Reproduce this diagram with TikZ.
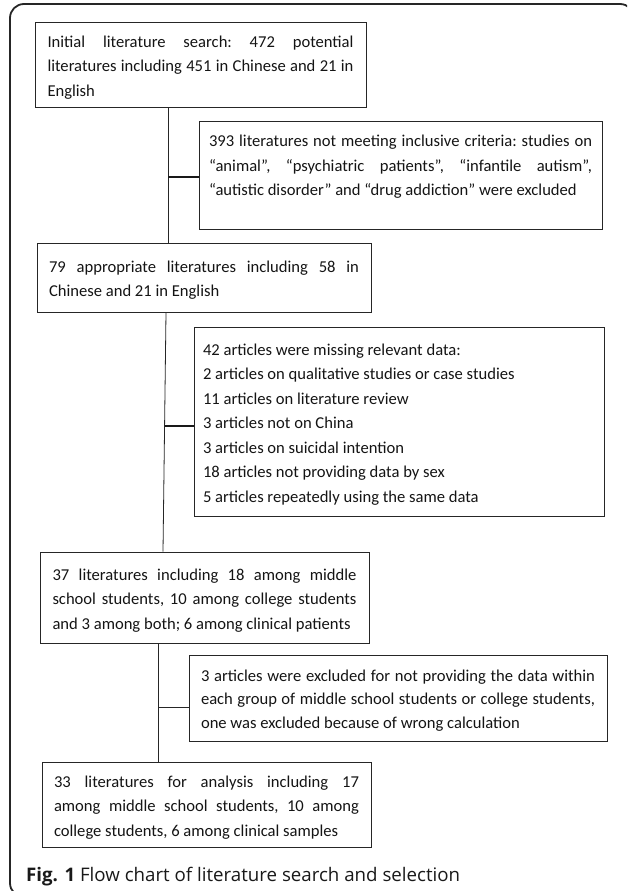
\documentclass[tikz,border=0pt]{standalone}
\usepackage{fontspec}
\setmainfont{Carlito}
\newfontfamily\capfont{Open Sans}
\newcommand{\J}[1]{\makebox[\hsize][s]{#1}}
\begin{document}
\begin{tikzpicture}[x=1pt,y=-1pt,
  box/.style={draw=black!85, line width=0.9pt, inner sep=0pt, align=left,
    font=\fontsize{16.6}{24.5}\selectfont, text=black!92,
    execute at begin node={\spaceskip=0pt\xspaceskip=0pt\frenchspacing\hyphenpenalty=10000\relax\strut}},
  link/.style={line width=0.8pt, draw=black!85},
  tick/.style={line width=1.6pt, draw=black!90}]
\useasboundingbox (0,0) rectangle (627,891);
\begin{scope}
  \clip (0,0) rectangle (627,891);
  \draw[line width=1.8pt, draw=black!85, rounded corners=14pt] (10,4) rectangle (634,897);
\end{scope}

\node[box, text width=306pt, minimum width=331pt, minimum height=85pt] (b1) at (200.5,64.5)
  {\J{Initial literature search: 472 potential}\\
   \J{literatures including 451 in Chinese and 21 in}\\
   English};

\node[box, text width=383pt, minimum width=403pt, minimum height=108pt] (b2) at (400.5,175)
  {\J{393 literatures not meeting inclusive criteria: studies on}\\
   \J{“animal”, “psychiatric patients”, “infantile autism”,}\\
   \mbox{“autistic disorder” and “drug addiction” were excluded}\\
   \mbox{}};

\node[box, text width=310pt, minimum width=334pt, minimum height=69pt] (b3) at (204,277.5)
  {\J{79 appropriate literatures including 58 in}\\
   \mbox{Chinese and 21 in English}};

\node[box, text width=392pt, minimum width=410pt, minimum height=189pt] (b5) at (399,421.5)
  {\mbox{42 articles were missing relevant data:}\\
   \mbox{2 articles on qualitative studies or case studies}\\
   \mbox{11 articles on literature review}\\
   \mbox{3 articles not on China}\\
   \mbox{3 articles on suicidal intention}\\
   \mbox{18 articles not providing data by sex}\\
   \mbox{5 articles repeatedly using the same data}};

\node[box, text width=304pt, minimum width=329pt, minimum height=91pt] (b4) at (204.5,597.5)
  {\J{37 literatures including 18 among middle}\\
   \J{school students, 10 among college students}\\
   \mbox{and 3 among both; 6 among clinical patients}};

\node[box, text width=394pt, minimum width=418pt, minimum height=86pt,
      font=\fontsize{16.6}{23.5}\selectfont] (b6) at (398,698)
  {\J{3 articles were excluded for not providing the data within}\\
   \J{each group of middle school students or college students,}\\
   \mbox{one was excluded because of wrong calculation}};

\node[box, text width=305pt, minimum width=329pt, minimum height=85pt] (b7) at (206.5,804.5)
  {\J{33 literatures for analysis including 17}\\
   \J{among middle school students, 10 among}\\
   \mbox{college students, 6 among clinical samples}};

% connectors
\coordinate (v1) at (168,177);
\draw[link] (b1.south -| v1) -- (b3.north -| v1);
\draw[tick] (v1) -- (v1 -| b2.west);

\coordinate (v2a) at (166,0);
\coordinate (v2b) at (163,0);
\coordinate (v2) at (164.6,426);
\draw[link] (v2a |- b3.south) -- (v2b |- b4.north);
\draw[tick] (v2) -- (v2 -| b5.west);

\coordinate (v3) at (158.5,707);
\draw[link] (b4.south -| v3) -- (b7.north -| v3);
\draw[link] (v3) -- (v3 -| b6.west);

\node[anchor=base west, inner sep=0pt, font=\capfont\fontsize{18.7}{21}\selectfont, text=black!90] (cap) at (26,881)
  {\textbf{Fig. 1} Flow chart of literature search and selection};
\end{tikzpicture}
\end{document}
